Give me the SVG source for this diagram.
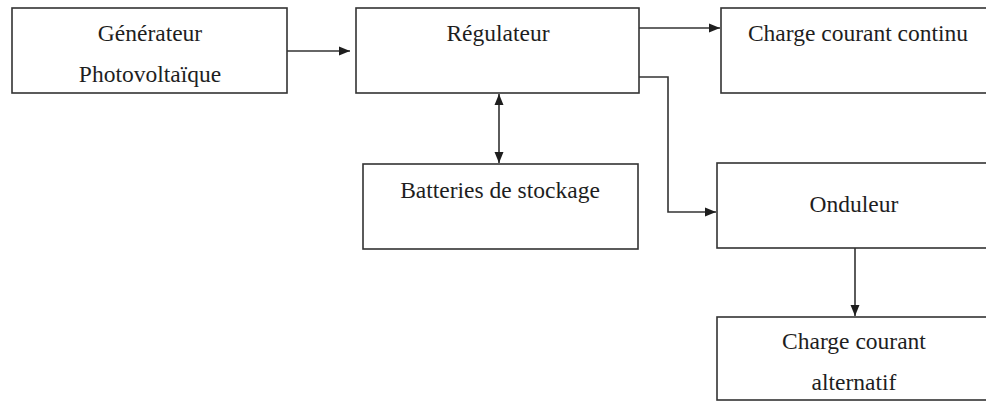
<svg xmlns="http://www.w3.org/2000/svg" width="986" height="402" viewBox="0 0 986 402">
  <style>
    .box { fill: #ffffff; stroke: #333333; stroke-width: 1.6; }
    .lbl { font-family: "Liberation Serif", "Times New Roman", serif; font-size: 23.5px; fill: #1e1e1e; text-anchor: middle; }
    .con { fill: none; stroke: #333333; stroke-width: 1.6; }
  </style>
  <defs>
    <marker id="ah" markerUnits="userSpaceOnUse" markerWidth="12" markerHeight="10" refX="11" refY="5" orient="auto-start-reverse">
      <path d="M0,0.5 L11,5 L0,9.5 Z" fill="#1e1e1e"/>
    </marker>
  </defs>
  <rect width="986" height="402" fill="#ffffff"/>

  <g id="node-generateur">
    <rect class="box" x="12" y="8" width="275" height="85"/>
    <text class="lbl" x="150" y="41">Générateur</text>
    <text class="lbl" x="150" y="82">Photovoltaïque</text>
  </g>
  <g id="node-regulateur">
    <rect class="box" x="356" y="8" width="283" height="85"/>
    <text class="lbl" x="498" y="41">Régulateur</text>
  </g>
  <g id="node-charge-continu">
    <rect class="box" x="721" y="8" width="300" height="85"/>
    <text class="lbl" x="858" y="41">Charge courant continu</text>
  </g>
  <g id="node-batteries">
    <rect class="box" x="363" y="164" width="275" height="85"/>
    <text class="lbl" x="500" y="198">Batteries de stockage</text>
  </g>
  <g id="node-onduleur">
    <rect class="box" x="717" y="163" width="300" height="85"/>
    <text class="lbl" x="854" y="212">Onduleur</text>
  </g>
  <g id="node-charge-alternatif">
    <rect class="box" x="717" y="317" width="300" height="83"/>
    <text class="lbl" x="854" y="349">Charge courant</text>
    <text class="lbl" x="854" y="390">alternatif</text>
  </g>

  <g id="connectors">
    <line class="con" x1="287" y1="51" x2="350" y2="51" marker-end="url(#ah)"/>
    <line class="con" x1="639" y1="28" x2="720" y2="28" marker-end="url(#ah)"/>
    <polyline class="con" points="639,77 668,77 668,212 716,212" marker-end="url(#ah)"/>
    <line class="con" x1="499" y1="94" x2="499" y2="163" marker-start="url(#ah)" marker-end="url(#ah)"/>
    <line class="con" x1="855" y1="248" x2="855" y2="316" marker-end="url(#ah)"/>
  </g>
</svg>
